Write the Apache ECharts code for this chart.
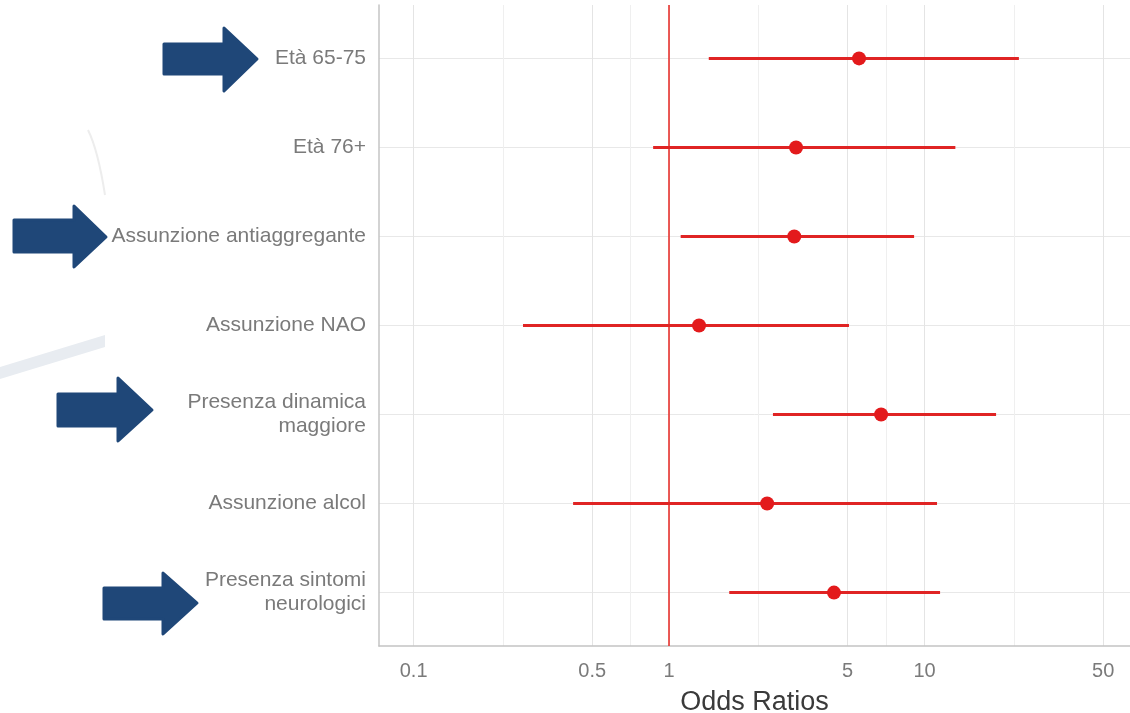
<!DOCTYPE html>
<html>
<head>
<meta charset="utf-8">
<script src="https://cdn.jsdelivr.net/npm/echarts@6/dist/echarts.min.js"></script>
<style>
html,body{margin:0;padding:0;background:#fff;}
#chart{width:1130px;height:713px;}
</style>
</head>
<body>
<div id="chart"></div>
<script>
// ---- data ----
var categories = [
  'Età 65-75',
  'Età 76+',
  'Assunzione antiaggregante',
  'Assunzione NAO',
  'Presenza dinamica\nmaggiore',
  'Assunzione alcol',
  'Presenza sintomi\nneurologici'
];
var oddsRatio = [5.54, 3.14, 3.09, 1.31, 6.76, 2.42, 4.42];
var ciLow     = [1.43, 0.866, 1.11, 0.268, 2.55, 0.421, 1.72];
var ciHigh    = [23.4, 13.2, 9.10, 5.06, 19.05, 11.19, 11.5];
var tickValues = [0.1, 0.5, 1, 5, 10, 50];
var tickLabels = ['0.1', '0.5', '1', '5', '10', '50'];
var referenceOR = 1;

// ---- derived ----
var rows = categories.map(function (c, i) { return i + 1; });
var gridValues = [];
tickValues.forEach(function (v, i) {
  gridValues.push(v);
  if (i < tickValues.length - 1) gridValues.push(Math.sqrt(v * tickValues[i + 1]));
});
var barData = categories.map(function (c, i) { return [ciLow[i], ciHigh[i], rows[i]]; });
var pointData = categories.map(function (c, i) { return [oddsRatio[i], rows[i]]; });

var arrowColor = '#1f4778';
function arrow(pts) {
  return {
    type: 'polygon', z: 100,
    shape: { points: pts },
    style: { fill: arrowColor, stroke: arrowColor, lineWidth: 3, lineJoin: 'round' }
  };
}

var chart = echarts.init(document.getElementById('chart'), null, { renderer: 'canvas' });
chart.setOption({
  backgroundColor: '#ffffff',
  animation: false,
  textStyle: { fontFamily: 'Liberation Sans, Arial, sans-serif' },
  grid: { left: 379, right: 0, top: 5, bottom: 67, containLabel: false, outerBoundsMode: 'none' },
  xAxis: {
    type: 'log',
    logBase: 10,
    min: 0.0732,
    max: 63.7,
    name: 'Odds Ratios',
    nameLocation: 'middle',
    nameGap: 43,
    nameTextStyle: { fontSize: 27, color: '#3a3a3a', fontFamily: 'Liberation Sans, Arial, sans-serif' },
    axisLine: { show: true, lineStyle: { color: '#c4c4c4', width: 1.5 } },
    axisTick: { show: false, customValues: gridValues },
    axisLabel: {
      customValues: tickValues,
      margin: 15,
      fontSize: 20,
      color: '#7a7a7a',
      formatter: function (v) {
        var best = 0, d = Infinity;
        tickValues.forEach(function (t, i) {
          var dd = Math.abs(Math.log(t) - Math.log(v));
          if (dd < d) { d = dd; best = i; }
        });
        return tickLabels[best];
      }
    },
    splitLine: { show: true, lineStyle: { color: ['#e4e4e4', '#efefef'], width: 1 } },
    minorSplitLine: { show: false }
  },
  yAxis: {
    type: 'value',
    inverse: true,
    min: 0.4,
    max: 7.6,
    axisLine: { show: true, lineStyle: { color: '#c4c4c4', width: 1.5 } },
    axisTick: { show: false, customValues: rows },
    axisLabel: {
      customValues: rows,
      margin: 13,
      fontSize: 21,
      lineHeight: 24,
      color: '#7a7a7a',
      align: 'right',
      formatter: function (v) { return categories[Math.round(v) - 1] || ''; }
    },
    splitLine: { show: true, lineStyle: { color: '#e8e8e8', width: 1 } }
  },
  series: [
    {
      type: 'custom',
      name: 'CI',
      data: barData,
      encode: { x: [0, 1], y: 2 },
      z: 3,
      renderItem: function (params, api) {
        var y = api.value(2);
        var p1 = api.coord([api.value(0), y]);
        var p2 = api.coord([api.value(1), y]);
        return {
          type: 'line',
          shape: { x1: p1[0], y1: p1[1], x2: p2[0], y2: p2[1] },
          style: { stroke: '#e02424', lineWidth: 3 }
        };
      }
    },
    {
      type: 'scatter',
      name: 'OR',
      data: pointData,
      symbol: 'circle',
      symbolSize: 14,
      z: 4,
      itemStyle: { color: '#e31a1c', opacity: 1 },
      markLine: {
        silent: true,
        symbol: 'none',
        label: { show: false },
        z: 2,
        lineStyle: { color: '#e8322e', width: 1.6, type: 'solid', opacity: 1 },
        data: [{ xAxis: referenceOR }]
      }
    }
  ],
  graphic: [
    {
      type: 'polygon', z: 0, silent: true,
      shape: { points: [[0, 367], [0, 379], [105, 347], [105, 335]] },
      style: { fill: '#e8ecf1' }
    },
    {
      type: 'bezierCurve', z: 0, silent: true,
      shape: { x1: 88, y1: 130, x2: 105, y2: 195, cpx1: 98, cpy1: 150 },
      style: { stroke: '#ededed', lineWidth: 2, fill: null }
    },
    arrow([[164, 44], [224, 44], [224, 28], [257, 59], [224, 91], [224, 74], [164, 74]]),
    arrow([[14, 220], [74, 220], [74, 206], [106, 237], [74, 267], [74, 252], [14, 252]]),
    arrow([[58, 394], [118, 394], [118, 378], [152, 410], [118, 441], [118, 426], [58, 426]]),
    arrow([[104, 588], [163, 588], [163, 573], [197, 603], [163, 634], [163, 619], [104, 619]])
  ]
});
</script>
</body>
</html>
